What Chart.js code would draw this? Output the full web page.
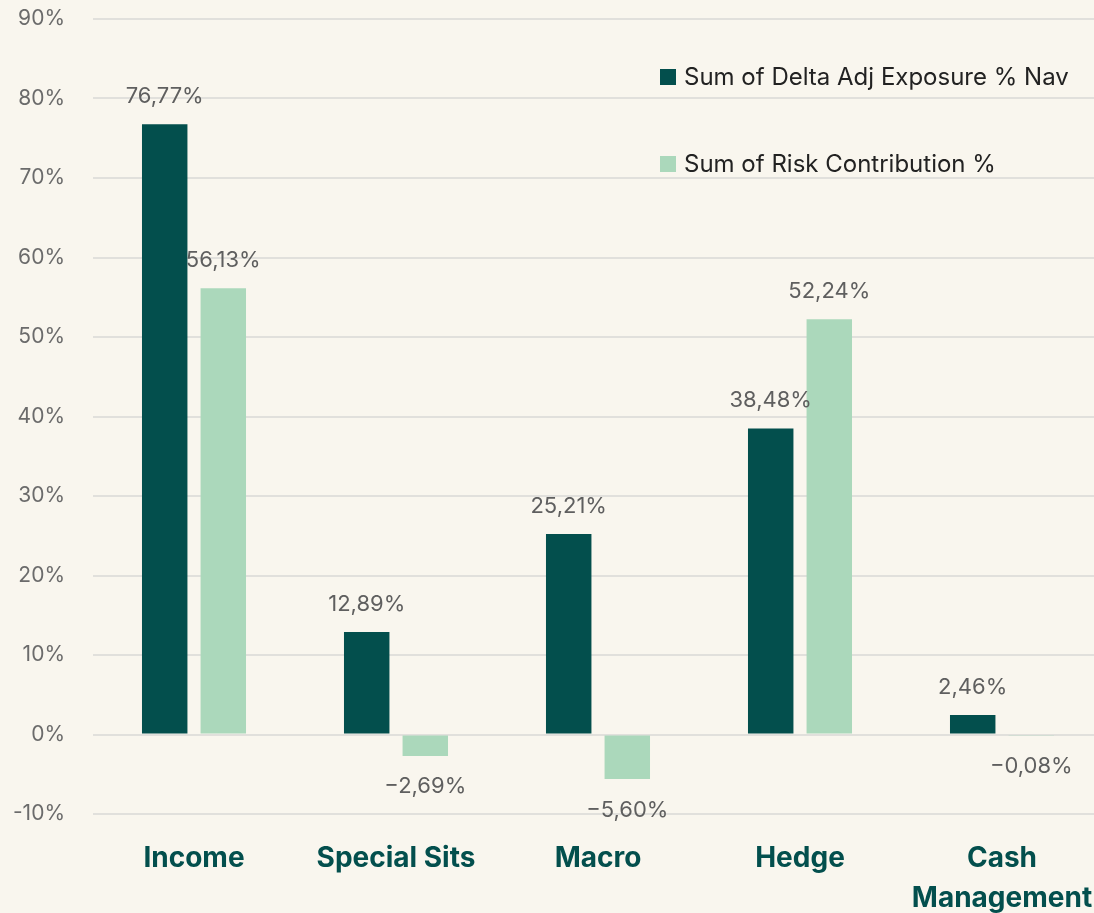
<!DOCTYPE html>
<html>
<head>
<meta charset="utf-8">
<script src="https://cdn.jsdelivr.net/npm/chart.js@4.4.1/dist/chart.umd.min.js"></script>
<style>
  html, body { margin: 0; padding: 0; background: #f9f6ee; overflow: hidden; }
  canvas { display: block; }
</style>
</head>
<body>
<!-- the plot runs a few px past the right edge of the page, as in the original -->
<canvas id="exposure-chart" width="1103" height="913"></canvas>
<script>
var categories = ['Income', 'Special Sits', 'Macro', 'Hedge', ['Cash', 'Management']]
var delta_exposure = [76.77, 12.89, 25.21, 38.48, 2.46]
var risk_contribution = [56.13, -2.69, -5.60, 52.24, -0.08]
var series_names = ['Sum of Delta Adj Exposure % Nav', 'Sum of Risk Contribution %']

var dark_green = '#034f4d'
var light_green = '#abd8bb'
var font_family = 'Inter, "Open Sans", sans-serif'

function pct(value) {
  return value.toFixed(2).replace('.', ',') + '%'
}

// value labels above / below each bar
var value_labels = {
  id: 'value_labels',
  afterDatasetsDraw(chart) {
    var ctx = chart.ctx
    ctx.save()
    ctx.font = '22px ' + font_family
    ctx.fillStyle = '#5f5f5f'
    ctx.textAlign = 'center'
    ctx.textBaseline = 'middle'
    chart.data.datasets.forEach(function(ds, i) {
      chart.getDatasetMeta(i).data.forEach(function(bar, j) {
        var v = ds.data[j]
        var y = v >= 0 ? bar.y - 28 : bar.y + 31
        ctx.fillText(v < 0 ? '\u2212' + pct(-v) : pct(v), bar.x, y)
      })
    })
    ctx.restore()
  }
}

// legend stacked at the top right of the plot
var side_legend = {
  id: 'side_legend',
  afterDraw(chart) {
    var ctx = chart.ctx
    var area = chart.chartArea
    ctx.save()
    ctx.font = '24px ' + font_family
    ctx.textBaseline = 'middle'
    ctx.textAlign = 'left'
    var x = area.right - 443
    var rows = [area.top + 58, area.top + 145]
    chart.data.datasets.forEach(function(ds, i) {
      ctx.fillStyle = ds.backgroundColor
      ctx.fillRect(x, rows[i] - 8, 16, 16)
      ctx.fillStyle = '#222222'
      ctx.fillText(ds.label, x + 24, rows[i] + 1)
    })
    ctx.restore()
  }
}

var ctx = document.getElementById('exposure-chart').getContext('2d')
new Chart(ctx, {
  type: 'bar',
  data: {
    labels: categories,
    datasets: [
      {
        label: series_names[0],
        data: delta_exposure,
        backgroundColor: dark_green,
        categoryPercentage: 0.58,
        barPercentage: 0.776
      },
      {
        label: series_names[1],
        data: risk_contribution,
        backgroundColor: light_green,
        categoryPercentage: 0.58,
        barPercentage: 0.776
      }
    ]
  },
  options: {
    responsive: false,
    devicePixelRatio: 1,
    animation: false,
    layout: { padding: { top: 19, right: 0, left: 0, bottom: 0 } },
    scales: {
      x: {
        border: { display: false },
        grid: { display: false },
        ticks: {
          color: dark_green,
          padding: 17,
          maxRotation: 0,
          minRotation: 0,
          autoSkip: false,
          font: { family: font_family, size: 28, weight: 'bold', lineHeight: 1.43 }
        },
        afterFit: function(scale) {
          scale.height = 99
          scale.paddingLeft = 0
          scale.paddingRight = 0
        }
      },
      y: {
        min: -10,
        max: 90,
        border: { display: false },
        grid: { color: '#e1e0dc', lineWidth: 2, drawTicks: false },
        ticks: {
          stepSize: 10,
          padding: 28,
          color: '#6b6b6b',
          font: { family: font_family, size: 21 },
          callback: function(value) { return value + '%' }
        },
        afterFit: function(scale) {
          scale.width = 93
          scale.paddingTop = 0
          scale.paddingBottom = 0
        }
      }
    },
    plugins: {
      legend: { display: false },
      tooltip: { enabled: false }
    }
  },
  plugins: [value_labels, side_legend]
})
</script>
</body>
</html>
